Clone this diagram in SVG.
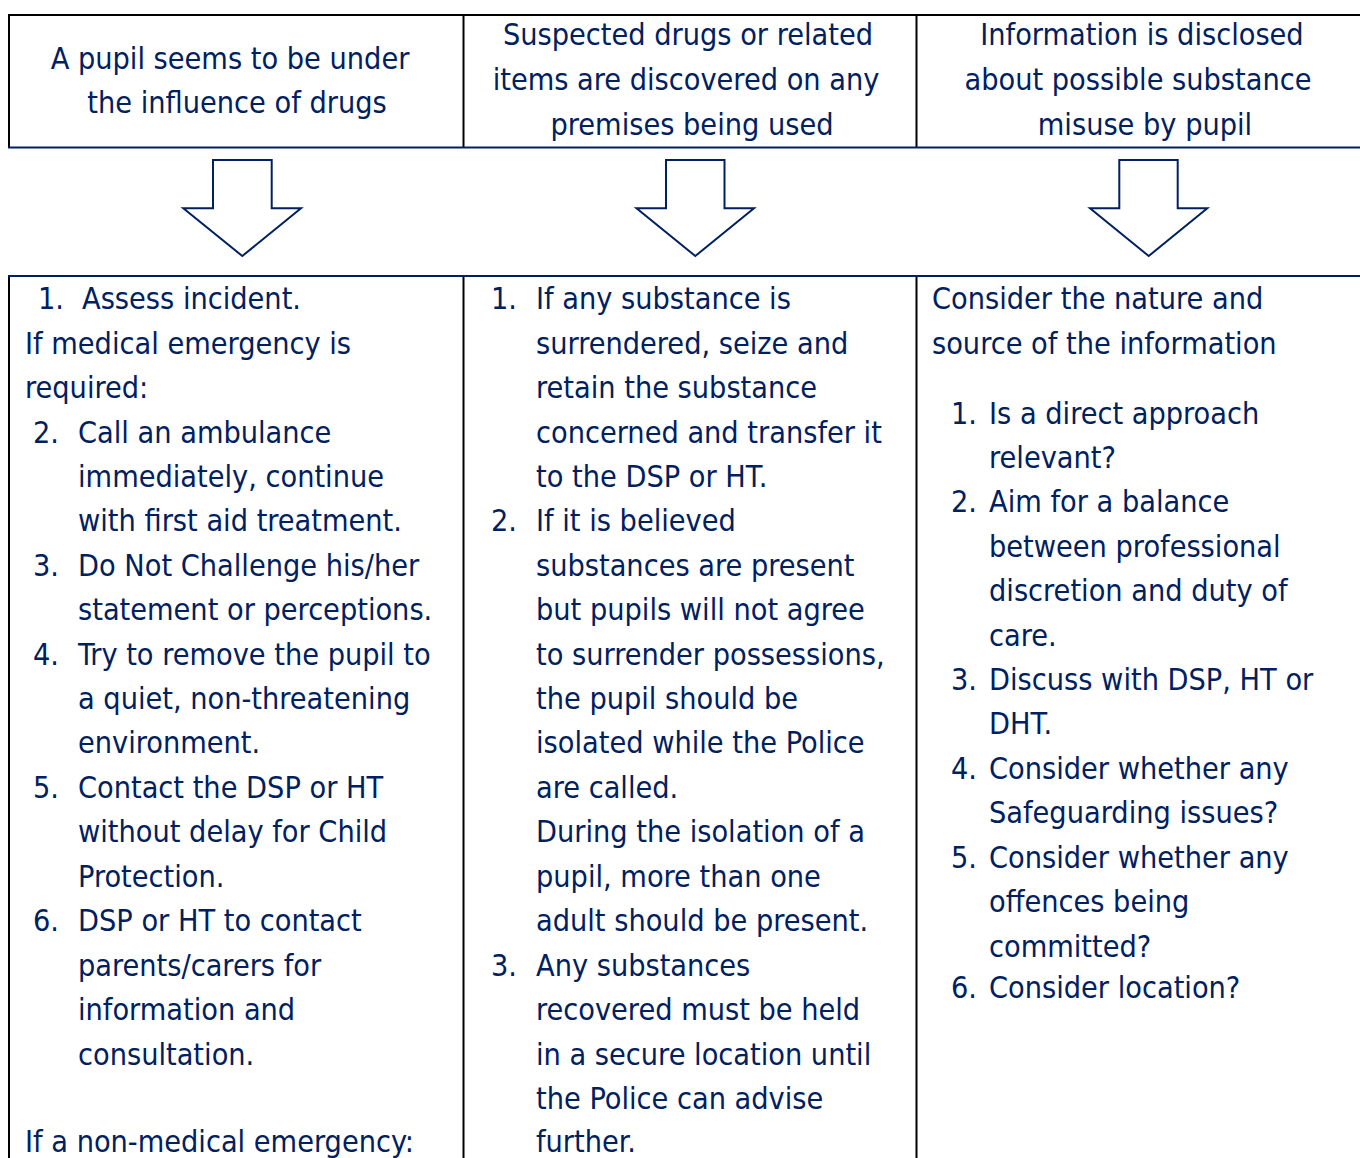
<svg xmlns="http://www.w3.org/2000/svg" width="1360" height="1158" viewBox="0 0 1360 1158">
<style>
  text { font-family: "DejaVu Sans Condensed", "DejaVu Sans", sans-serif; font-size: 30.3px; fill: #002060; }
  .c { text-anchor: middle; }
  .blk { stroke: #000000; stroke-width: 2; fill: none; }
  .nav { stroke: #002060; stroke-width: 2; fill: none; }
  .arrow { stroke: #002060; stroke-width: 2; fill: #ffffff; stroke-linejoin: miter; }
</style>
<rect x="0" y="0" width="1360" height="1158" fill="#ffffff"/>

<g id="table-lines">
  <line class="blk" x1="8" y1="15" x2="1360" y2="15"/>
  <line class="blk" x1="9" y1="14" x2="9" y2="148"/>
  <line class="blk" x1="463.5" y1="14" x2="463.5" y2="147"/>
  <line class="blk" x1="916.5" y1="14" x2="916.5" y2="147"/>
  <line class="nav" x1="8" y1="147.5" x2="1360" y2="147.5"/>
  <line class="nav" x1="8" y1="276" x2="1360" y2="276"/>
  <line class="blk" x1="9" y1="277" x2="9" y2="1158"/>
  <line class="blk" x1="463.5" y1="277" x2="463.5" y2="1158"/>
  <line class="blk" x1="916.5" y1="277" x2="916.5" y2="1158"/>
</g>

<g id="header-1">
  <text class="c" x="230" y="69">A pupil seems to be under</text>
  <text class="c" x="237" y="113">the influence of drugs</text>
</g>
<g id="header-2">
  <text class="c" x="688" y="45">Suspected drugs or related</text>
  <text class="c" x="686" y="90">items are discovered on any</text>
  <text class="c" x="692" y="135">premises being used</text>
</g>
<g id="header-3">
  <text class="c" x="1142" y="45">Information is disclosed</text>
  <text class="c" x="1138" y="90">about possible substance</text>
  <text class="c" x="1145" y="135">misuse by pupil</text>
</g>

<g id="connectors">
  <polygon class="arrow" points="213,160 271.7,160 271.7,208.3 301,208.3 242.3,256 183.3,208.3 213,208.3"/>
  <polygon class="arrow" points="666,160 724.5,160 724.5,208.3 754,208.3 695.3,256 636.5,208.3 666,208.3"/>
  <polygon class="arrow" points="1119.3,160 1177.7,160 1177.7,208.3 1207.3,208.3 1148.7,256 1090,208.3 1119.3,208.3"/>
</g>

<g id="body-1">
  <text x="38" y="309">1.</text><text x="82" y="309">Assess incident.</text>
  <text x="25" y="354">If medical emergency is</text>
  <text x="25" y="398">required:</text>
  <text x="33" y="443">2.</text><text x="78" y="443">Call an ambulance</text>
  <text x="78" y="487">immediately, continue</text>
  <text x="78" y="531">with first aid treatment.</text>
  <text x="33" y="576">3.</text><text x="78" y="576">Do Not Challenge his/her</text>
  <text x="78" y="620">statement or perceptions.</text>
  <text x="33" y="665">4.</text><text x="78" y="665">Try to remove the pupil to</text>
  <text x="78" y="709">a quiet, non-threatening</text>
  <text x="78" y="753">environment.</text>
  <text x="33" y="798">5.</text><text x="78" y="798">Contact the DSP or HT</text>
  <text x="78" y="842">without delay for Child</text>
  <text x="78" y="887">Protection.</text>
  <text x="33" y="931">6.</text><text x="78" y="931">DSP or HT to contact</text>
  <text x="78" y="976">parents/carers for</text>
  <text x="78" y="1020">information and</text>
  <text x="78" y="1065">consultation.</text>
  <text x="25" y="1152">If a non-medical emergency:</text>
</g>

<g id="body-2">
  <text x="491" y="309">1.</text><text x="536" y="309">If any substance is</text>
  <text x="536" y="354">surrendered, seize and</text>
  <text x="536" y="398">retain the substance</text>
  <text x="536" y="443">concerned and transfer it</text>
  <text x="536" y="487">to the DSP or HT.</text>
  <text x="491" y="531">2.</text><text x="536" y="531">If it is believed</text>
  <text x="536" y="576">substances are present</text>
  <text x="536" y="620">but pupils will not agree</text>
  <text x="536" y="665">to surrender possessions,</text>
  <text x="536" y="709">the pupil should be</text>
  <text x="536" y="753">isolated while the Police</text>
  <text x="536" y="798">are called.</text>
  <text x="536" y="842">During the isolation of a</text>
  <text x="536" y="887">pupil, more than one</text>
  <text x="536" y="931">adult should be present.</text>
  <text x="491" y="976">3.</text><text x="536" y="976">Any substances</text>
  <text x="536" y="1020">recovered must be held</text>
  <text x="536" y="1065">in a secure location until</text>
  <text x="536" y="1109">the Police can advise</text>
  <text x="536" y="1152">further.</text>
</g>

<g id="body-3">
  <text x="932" y="309">Consider the nature and</text>
  <text x="932" y="354">source of the information</text>
  <text x="951" y="424">1.</text><text x="989" y="424">Is a direct approach</text>
  <text x="989" y="468">relevant?</text>
  <text x="951" y="512">2.</text><text x="989" y="512">Aim for a balance</text>
  <text x="989" y="557">between professional</text>
  <text x="989" y="601">discretion and duty of</text>
  <text x="989" y="646">care.</text>
  <text x="951" y="690">3.</text><text x="989" y="690">Discuss with DSP, HT or</text>
  <text x="989" y="734">DHT.</text>
  <text x="951" y="779">4.</text><text x="989" y="779">Consider whether any</text>
  <text x="989" y="823">Safeguarding issues?</text>
  <text x="951" y="868">5.</text><text x="989" y="868">Consider whether any</text>
  <text x="989" y="912">offences being</text>
  <text x="989" y="957">committed?</text>
  <text x="951" y="998">6.</text><text x="989" y="998">Consider location?</text>
</g>
</svg>
